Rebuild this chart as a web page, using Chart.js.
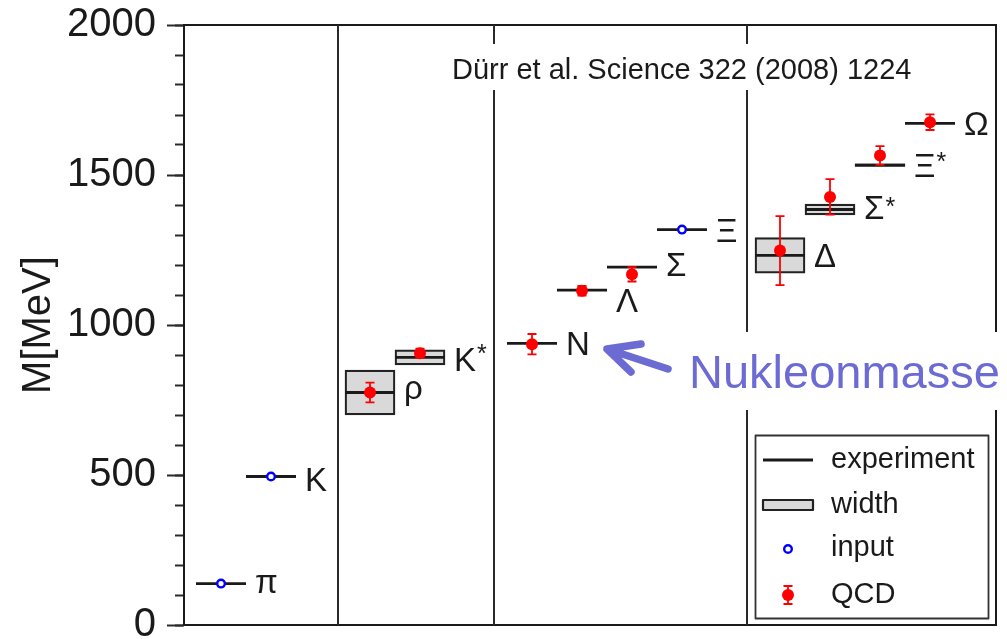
<!DOCTYPE html>
<html>
<head>
<meta charset="utf-8">
<script src="https://cdn.jsdelivr.net/npm/chart.js@4.4.1/dist/chart.umd.min.js"></script>
<style>
  html, body { margin: 0; padding: 0; background: #fff; }
  #wrap { width: 1007px; height: 639px; }
</style>
</head>
<body>
<div id="wrap"><canvas id="c" width="1007" height="639"></canvas></div>
<script>
// Light hadron spectrum: experimental masses vs. lattice QCD results (BMW, 2008)
const hadrons     = ['π', 'K', 'ρ', 'K*', 'N', 'Λ', 'Σ', 'Ξ', 'Δ', 'Σ*', 'Ξ*', 'Ω'];
const column      = [0.74, 1.74, 3.72, 4.72, 6.96, 7.96, 8.96, 9.96, 11.92, 12.92, 13.92, 14.92];
const expMass     = [138, 495, 775, 892, 939, 1116, 1193, 1318, 1232, 1385, 1533, 1672];
const decayWidth  = [0, 0, 149, 50, 0, 0, 0, 0, 118, 36, 9, 0];
const inputMass   = [138, 495, null, null, null, null, null, 1318, null, null, null, null];
const qcdMass     = [null, null, 775, 906, 936, 1114, 1169, null, 1248, 1427, 1565, 1676];
const qcdError    = [null, null, 33, 15, 34, 16, 24, null, 115, 59, 31, 26];
const groupBreaks = [3.08, 6.2, 11.26];
const legendNames = ['experiment', 'width', 'input', 'QCD'];
const yRange      = [0, 2000];
const xRange      = [0, 16.24];
const citation    = 'Dürr et al. Science 322 (2008) 1224';
const callout     = 'Nukleonmasse';

const FONT = "'Liberation Sans', Arial, Helvetica, sans-serif";
const INK = '#1a1a1a';
const RED = '#ff0000';
const BLUE = '#0000ff';
const BOX_FILL = '#d9d9d9';

const idx = hadrons.map((_, i) => i);

const widthData = idx.filter(i => decayWidth[i] > 0)
  .map(i => ({ x: column[i], y: [expMass[i] - decayWidth[i] / 2, expMass[i] + decayWidth[i] / 2] }));
const expData = idx.map(i => ({ x: column[i], y: expMass[i] }));
const inputData = idx.filter(i => inputMass[i] !== null).map(i => ({ x: column[i], y: inputMass[i] }));
const qcdData = idx.filter(i => qcdMass[i] !== null).map(i => ({ x: column[i], y: qcdMass[i], err: qcdError[i] }));

const separatorSets = groupBreaks.map(b => ({
  type: 'line',
  data: [{ x: b, y: yRange[0] }, { x: b, y: yRange[1] }],
  borderColor: '#2a2a2a',
  borderWidth: 2,
  pointRadius: 0,
  order: 5
}));

// Vertical error bars with caps for the lattice results
const errorBars = {
  id: 'errorBars',
  afterDatasetsDraw(chart) {
    const { ctx, scales: { x, y } } = chart;
    ctx.save();
    ctx.strokeStyle = RED;
    ctx.lineWidth = 1.8;
    qcdData.forEach(p => {
      const px = x.getPixelForValue(p.x);
      const yTop = y.getPixelForValue(p.y + p.err);
      const yBot = y.getPixelForValue(p.y - p.err);
      ctx.beginPath();
      ctx.moveTo(px, yTop); ctx.lineTo(px, yBot);
      ctx.moveTo(px - 4.5, yTop); ctx.lineTo(px + 4.5, yTop);
      ctx.moveTo(px - 4.5, yBot); ctx.lineTo(px + 4.5, yBot);
      ctx.stroke();
    });
    ctx.restore();
  }
};

// Particle names next to each experimental level
const hadronLabels = {
  id: 'hadronLabels',
  afterDatasetsDraw(chart) {
    const { ctx, scales: { x, y } } = chart;
    const baselineShift = { 'π': 9, 'ρ': 6, 'Λ': 22, 'Σ': 9, 'K': 14 };
    ctx.save();
    ctx.fillStyle = INK;
    ctx.textAlign = 'left';
    ctx.textBaseline = 'alphabetic';
    hadrons.forEach((name, i) => {
      const star = name.endsWith('*');
      const base = star ? name.slice(0, -1) : name;
      const px = x.getPixelForValue(column[i]) + 34;
      const py = y.getPixelForValue(expMass[i]);
      const shift = baselineShift[base] !== undefined ? baselineShift[base] : 12;
      ctx.font = '33px ' + FONT;
      ctx.fillText(base, px, py + shift);
      if (star) {
        const w = ctx.measureText(base).width;
        ctx.font = '25px ' + FONT;
        ctx.fillText('*', px + w + 1, py + 5);
      }
    });
    ctx.restore();
  }
};

// Citation, callout arrow and legend box
const overlays = {
  id: 'overlays',
  afterDraw(chart) {
    const { ctx, chartArea: a } = chart;
    ctx.save();

    // citation on white background
    ctx.font = '29px ' + FONT;
    ctx.fillStyle = '#fff';
    ctx.fillRect(447, 44, 472, 46);
    ctx.fillStyle = INK;
    ctx.textAlign = 'left';
    ctx.textBaseline = 'alphabetic';
    ctx.fillText(citation, 452, 79);

    // callout text
    ctx.fillStyle = '#fff';
    ctx.fillRect(684, 332, 323, 78);
    ctx.font = '47px ' + FONT;
    ctx.fillStyle = '#6b6bd3';
    ctx.fillText(callout, 689, 388);

    // arrow toward the nucleon
    ctx.strokeStyle = '#6b6bd3';
    ctx.lineWidth = 7.5;
    ctx.lineCap = 'round';
    ctx.lineJoin = 'round';
    ctx.beginPath();
    ctx.moveTo(668, 369); ctx.lineTo(607, 349);
    ctx.moveTo(641, 344); ctx.lineTo(607, 349); ctx.lineTo(631, 372);
    ctx.stroke();

    // legend
    const lx = a.right - 241, ly = a.bottom - 190, lw = 233, lh = 183;
    ctx.fillStyle = '#fff';
    ctx.fillRect(lx, ly, lw, lh);
    ctx.strokeStyle = '#333';
    ctx.lineWidth = 1.8;
    ctx.strokeRect(lx + 0.5, ly + 0.5, lw, lh);
    const rows = [ly + 25, ly + 70, ly + 113, ly + 160];
    const sx = lx + 33;
    ctx.lineCap = 'butt';
    // experiment
    ctx.strokeStyle = INK; ctx.lineWidth = 2.8;
    ctx.beginPath(); ctx.moveTo(sx - 25, rows[0]); ctx.lineTo(sx + 25, rows[0]); ctx.stroke();
    // width
    ctx.fillStyle = BOX_FILL; ctx.fillRect(sx - 25, rows[1] - 5, 50, 10);
    ctx.strokeStyle = '#222'; ctx.lineWidth = 2.2; ctx.strokeRect(sx - 25, rows[1] - 5, 50, 10);
    // input
    ctx.beginPath(); ctx.arc(sx, rows[2] + 1, 3.8, 0, Math.PI * 2);
    ctx.fillStyle = '#fff'; ctx.fill();
    ctx.strokeStyle = BLUE; ctx.lineWidth = 2.4; ctx.stroke();
    // QCD
    ctx.strokeStyle = RED; ctx.lineWidth = 1.8;
    ctx.beginPath();
    ctx.moveTo(sx, rows[3] - 9); ctx.lineTo(sx, rows[3] + 9);
    ctx.moveTo(sx - 4.5, rows[3] - 9); ctx.lineTo(sx + 4.5, rows[3] - 9);
    ctx.moveTo(sx - 4.5, rows[3] + 9); ctx.lineTo(sx + 4.5, rows[3] + 9);
    ctx.stroke();
    ctx.beginPath(); ctx.arc(sx, rows[3], 6, 0, Math.PI * 2);
    ctx.fillStyle = RED; ctx.fill();

    ctx.font = '29px ' + FONT;
    ctx.fillStyle = INK;
    ctx.textBaseline = 'middle';
    legendNames.forEach((t, k) => ctx.fillText(t, lx + 76, rows[k]));

    ctx.restore();
  }
};

const hiddenAxis = (position, extra) => Object.assign({
  type: 'linear',
  position,
  offset: false,
  ticks: { display: false },
  grid: { display: true, drawOnChartArea: false, drawTicks: false, offset: false },
  border: { display: true, color: INK, width: 2 }
}, extra);

new Chart(document.getElementById('c'), {
  type: 'scatter',
  data: {
    datasets: [
      {
        label: 'QCD',
        data: qcdData,
        pointStyle: 'circle',
        pointRadius: 6,
        backgroundColor: RED,
        borderColor: RED,
        borderWidth: 0,
        order: 0
      },
      {
        label: 'input',
        data: inputData,
        pointStyle: 'circle',
        pointRadius: 3.8,
        backgroundColor: '#fff',
        borderColor: BLUE,
        borderWidth: 2.4,
        order: 1
      },
      {
        label: 'experiment',
        data: expData,
        pointStyle: 'line',
        pointRadius: 25,
        borderColor: INK,
        borderWidth: 2.8,
        order: 2
      },
      {
        type: 'bar',
        label: 'width',
        data: widthData,
        barThickness: 50,
        backgroundColor: BOX_FILL,
        borderColor: '#222',
        borderWidth: 2.2,
        borderSkipped: false,
        order: 3
      },
      ...separatorSets
    ]
  },
  options: {
    responsive: false,
    animation: false,
    events: [],
    layout: { autoPadding: false, padding: { left: 0, top: 25, right: 11, bottom: 14 } },
    plugins: { legend: { display: false }, tooltip: { enabled: false } },
    scales: {
      x: hiddenAxis('bottom', {
        min: xRange[0], max: xRange[1],
        afterFit(s) { s.height = 0; }
      }),
      xTop: hiddenAxis('top', {
        min: xRange[0], max: xRange[1],
        afterFit(s) { s.height = 0; }
      }),
      yRight: hiddenAxis('right', {
        min: yRange[0], max: yRange[1],
        afterFit(s) { s.width = 0; }
      }),
      y: {
        type: 'linear',
        position: 'left',
        weight: 1,
        min: yRange[0], max: yRange[1],
        ticks: {
          stepSize: 500,
          padding: 11,
          color: INK,
          font: { family: FONT, size: 40 },
          callback: v => String(v)
        },
        grid: { drawOnChartArea: false, drawTicks: true, tickLength: 17, tickColor: '#2a2a2a', tickWidth: 2 },
        border: { display: true, color: INK, width: 2 },
        title: {
          display: true,
          text: 'M[MeV]',
          color: INK,
          font: { family: FONT, size: 40 },
          padding: { top: 15, bottom: 0 }
        },
        afterFit(s) { s.width = 184; s.paddingTop = 0; s.paddingBottom = 0; }
      },
      yMinor: {
        type: 'linear',
        position: 'left',
        weight: 0,
        min: yRange[0], max: yRange[1],
        ticks: { display: false, stepSize: 100 },
        grid: { drawOnChartArea: false, drawTicks: true, tickLength: 9, tickColor: '#2a2a2a', tickWidth: 2 },
        border: { display: false },
        afterFit(s) { s.width = 0; s.paddingTop = 0; s.paddingBottom = 0; }
      }
    }
  },
  plugins: [errorBars, hadronLabels, overlays]
});
</script>
</body>
</html>
